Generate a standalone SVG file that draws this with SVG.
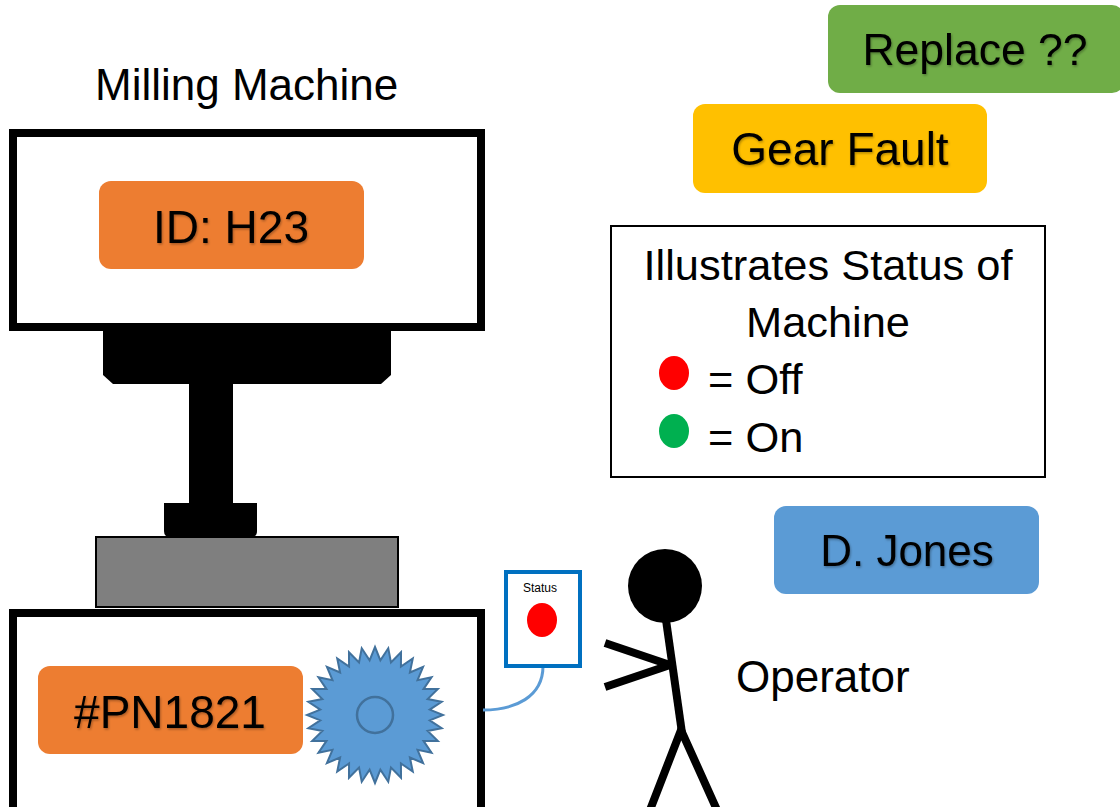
<svg xmlns="http://www.w3.org/2000/svg" width="1120" height="807" viewBox="0 0 1120 807">
  <defs>
    <filter id="txtShadow" x="-10%" y="-20%" width="120%" height="150%">
      <feDropShadow dx="1" dy="1.5" stdDeviation="1" flood-color="#000" flood-opacity="0.3"/>
    </filter>
  </defs>
  <style>
    text { font-family: "Liberation Sans", Arial, sans-serif; fill: #000; }
    .frame { fill: #fff; stroke: #000; stroke-width: 8; }
    .tag { stroke: none; }
    .orange { fill: #ED7D31; }
    .green { fill: #70AD47; }
    .gold { fill: #FFC000; }
    .blue { fill: #5B9BD5; }
    .lbl { text-anchor: middle; filter: url(#txtShadow); }
    .limb { stroke: #000; stroke-width: 8; fill: none; stroke-linecap: butt; }
  </style>

  <rect width="1120" height="807" fill="#fff"/>

  <!-- machine title -->
  <g id="title">
    <text x="95" y="100" font-size="44">Milling Machine</text>
  </g>

  <!-- upper housing with ID plate -->
  <g id="upper-housing">
    <rect class="frame" x="13" y="133" width="468" height="194"/>
    <rect class="tag orange" x="99" y="181" width="265" height="88" rx="12"/>
    <text class="lbl" x="231" y="243" font-size="46">ID: H23</text>
  </g>

  <!-- spindle head, quill and tool holder -->
  <g id="spindle">
    <polygon points="103,330 391,330 391,375 381,384 113,384 103,375" fill="#000"/>
    <rect x="189" y="382" width="44" height="123" fill="#000"/>
    <path d="M164 503 H257 V531 Q257 537 251 537 H170 Q164 537 164 531 Z" fill="#000"/>
  </g>

  <!-- work table -->
  <g id="table">
    <rect x="96" y="537" width="302" height="70" fill="#7F7F7F" stroke="#000" stroke-width="2"/>
  </g>

  <!-- lower base with part number and gear -->
  <g id="base">
    <rect class="frame" x="13" y="613" width="468" height="198"/>
    <rect class="tag orange" x="38" y="666" width="265" height="88" rx="12"/>
    <text class="lbl" x="170" y="728" font-size="46">#PN1821</text>
  </g>

  <g id="gear">
    <polygon fill="#5B9BD5" stroke="#41719C" stroke-width="2" stroke-linejoin="miter" points="375,647 380.39,660.27 388.27,648.31 390.97,662.37 401.02,652.18 400.93,666.49 412.78,658.46 409.89,672.48 423.08,666.92 417.52,680.11 431.54,677.22 423.51,689.07 437.82,688.98 427.63,699.03 441.69,701.73 429.73,709.61 443,715 429.73,720.39 441.69,728.27 427.63,730.97 437.82,741.02 423.51,740.93 431.54,752.78 417.52,749.89 423.08,763.08 409.89,757.52 412.78,771.54 400.93,763.51 401.02,777.82 390.97,767.63 388.27,781.69 380.39,769.73 375,783 369.61,769.73 361.73,781.69 359.03,767.63 348.98,777.82 349.07,763.51 337.22,771.54 340.11,757.52 326.92,763.08 332.48,749.89 318.46,752.78 326.49,740.93 312.18,741.02 322.37,730.97 308.31,728.27 320.27,720.39 307,715 320.27,709.61 308.31,701.73 322.37,699.03 312.18,688.98 326.49,689.07 318.46,677.22 332.48,680.11 326.92,666.92 340.11,672.48 337.22,658.46 349.07,666.49 348.98,652.18 359.03,662.37 361.73,648.31 369.61,660.27"/>
    <circle cx="375" cy="715" r="18" fill="none" stroke="#41719C" stroke-width="2.5"/>
  </g>

  <!-- cable from base to status panel -->
  <g id="connectors">
    <path d="M483 710 C515 710 543 697 543 666" fill="none" stroke="#5B9BD5" stroke-width="3"/>
  </g>

  <!-- status indicator panel -->
  <g id="status-panel">
    <rect x="506" y="572" width="74" height="94" fill="#fff" stroke="#0070C0" stroke-width="4"/>
    <text x="540" y="592" font-size="12" text-anchor="middle">Status</text>
    <ellipse cx="542" cy="620" rx="15" ry="17" fill="#FF0000"/>
  </g>

  <!-- operator -->
  <g id="operator">
    <circle cx="665" cy="586" r="37" fill="#000"/>
    <line class="limb" x1="666" y1="620" x2="682" y2="733"/>
    <line class="limb" x1="605" y1="643" x2="670" y2="665"/>
    <line class="limb" x1="605" y1="687" x2="670" y2="665"/>
    <polyline class="limb" points="650,810 681,730 717,810"/>
    <text x="736" y="692" font-size="44">Operator</text>
  </g>

  <!-- status labels -->
  <g id="replace">
    <rect class="tag green" x="828" y="5" width="296" height="88" rx="12"/>
    <text class="lbl" x="975" y="65" font-size="44.5">Replace ??</text>
  </g>

  <g id="gear-fault">
    <rect class="tag gold" x="693" y="104" width="294" height="89" rx="12"/>
    <text class="lbl" x="840" y="165" font-size="46">Gear Fault</text>
  </g>

  <g id="operator-name">
    <rect class="tag blue" x="774" y="506" width="265" height="88" rx="12"/>
    <text class="lbl" x="907" y="566" font-size="44">D. Jones</text>
  </g>

  <!-- legend -->
  <g id="legend">
    <rect x="611" y="226" width="434" height="251" fill="#fff" stroke="#000" stroke-width="2"/>
    <text x="828" y="280" font-size="43.4" text-anchor="middle">Illustrates Status of</text>
    <text x="828" y="337" font-size="43.4" text-anchor="middle">Machine</text>
    <ellipse cx="674" cy="373" rx="15" ry="17" fill="#FF0000"/>
    <text x="708" y="394" font-size="43.4">= Off</text>
    <ellipse cx="674" cy="431" rx="15" ry="17" fill="#00B050"/>
    <text x="708" y="452" font-size="43.4">= On</text>
  </g>
</svg>
